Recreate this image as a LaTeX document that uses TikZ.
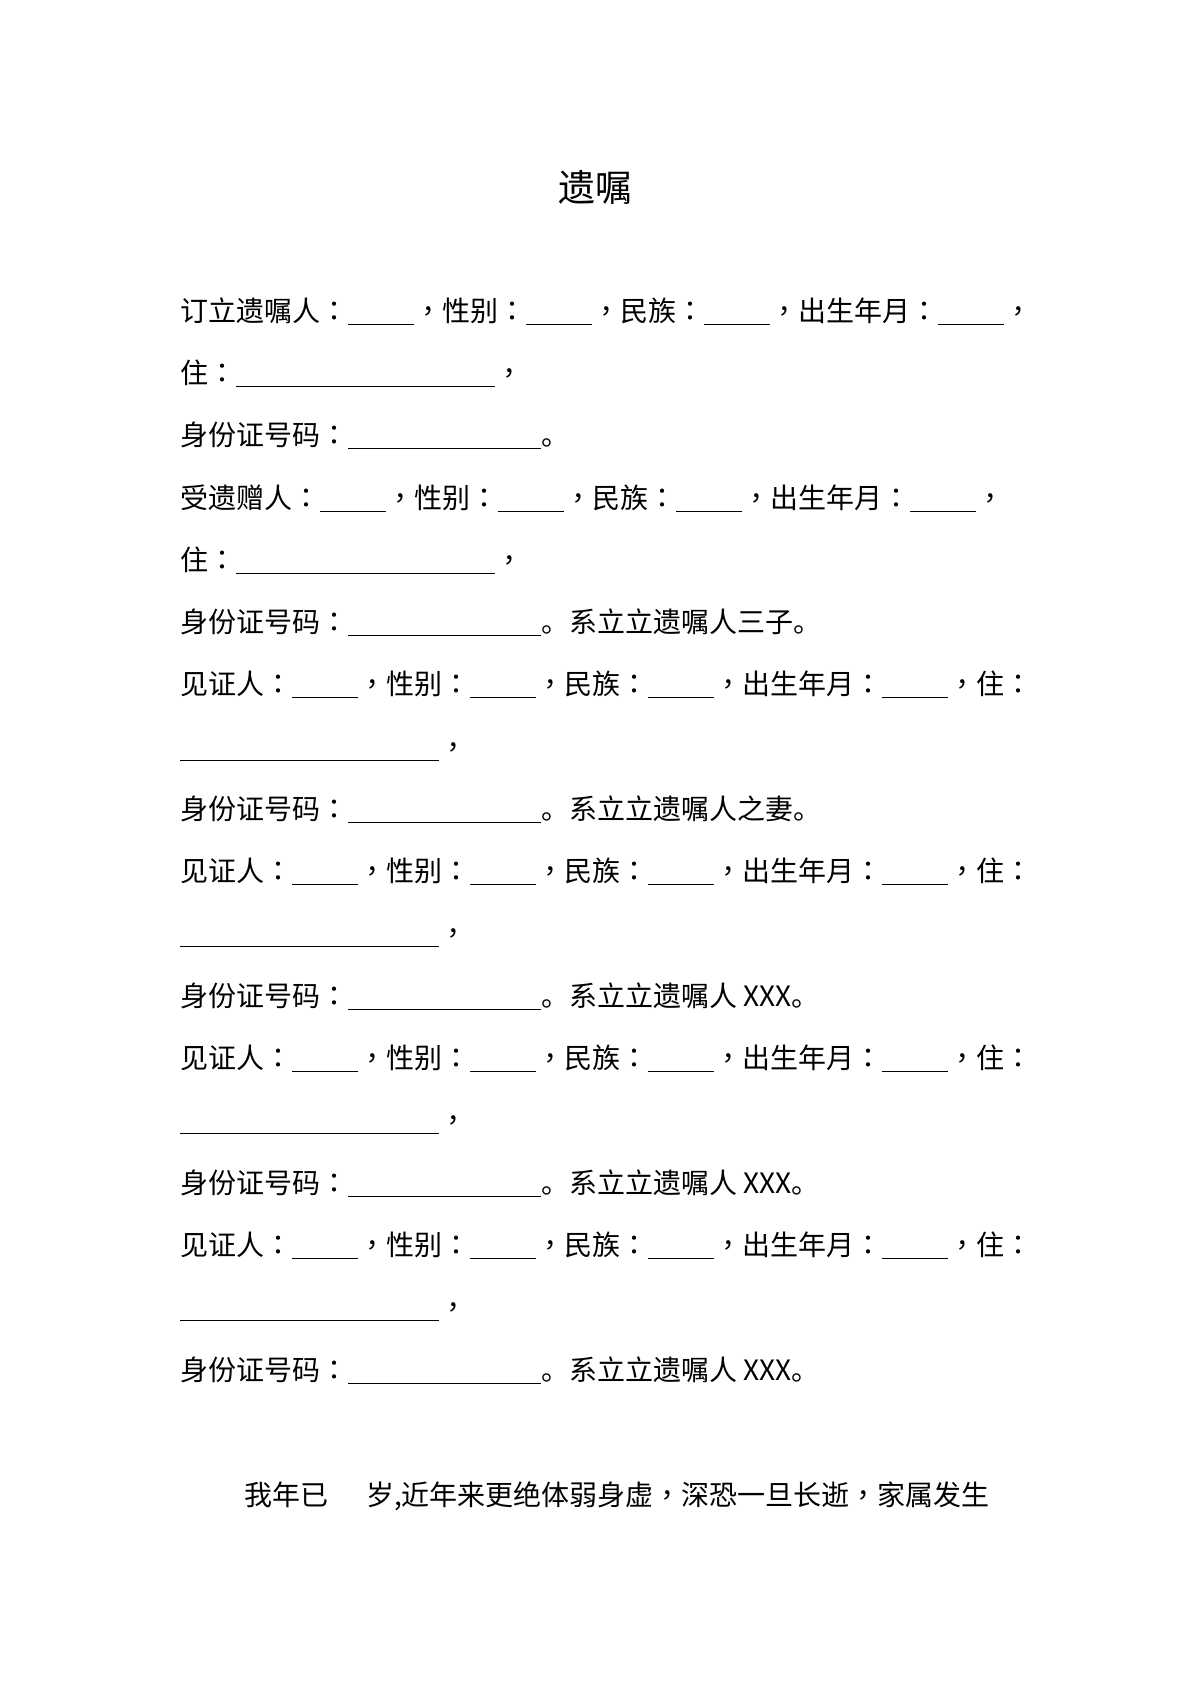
\documentclass[tikz,border=0pt]{standalone}
\usepackage{fontspec}
\setmainfont{Noto Sans CJK SC}
\newfontfamily\tcf{Noto Sans CJK TC}
\newcommand{\blk}[1]{\rule[-4pt]{#1pt}{1.1pt}}
\newcommand{\CO}{{\tcf ：}}
\newcommand{\CM}{{\tcf ，}}
\begin{document}
\begin{tikzpicture}[x=1pt,y=1pt,ln/.style={anchor=base west,inner sep=0pt,font=\fontsize{28}{34}\selectfont}]
\useasboundingbox[fill=white] (0,0) rectangle (1190,-1683);
\node[anchor=base,inner sep=0pt,font=\fontsize{37}{44}\selectfont] (t) at (595,-201) {遗嘱};
\def\S{\blk{66}}\def\L{\blk{259}}\def\I{\blk{193}}
\node[ln] (l1) at (180,-321) {订立遗嘱人\CO\S\CM 性别\CO\S\CM 民族\CO\S\CM 出生年月\CO\S\CM};
\node[ln] (l2) at (180,-383) {住\CO\L\CM};
\node[ln] (l3) at (180,-445) {身份证号码\CO\I。};
\node[ln] (l4) at (180,-508) {受遗赠人\CO\S\CM 性别\CO\S\CM 民族\CO\S\CM 出生年月\CO\S\CM};
\node[ln] (l5) at (180,-570) {住\CO\L\CM};
\node[ln] (l6) at (180,-632) {身份证号码\CO\I。系立立遗嘱人三子。};
\node[ln] (l7) at (180,-694) {见证人\CO\S\CM 性别\CO\S\CM 民族\CO\S\CM 出生年月\CO\S\CM 住\CO};
\node[ln] (l8) at (180,-757) {\L\CM};
\node[ln] (l9) at (180,-819) {身份证号码\CO\I。系立立遗嘱人之妻。};
\node[ln] (l10) at (180,-881) {见证人\CO\S\CM 性别\CO\S\CM 民族\CO\S\CM 出生年月\CO\S\CM 住\CO};
\node[ln] (l11) at (180,-943) {\L\CM};
\node[ln] (l12) at (180,-1006) {身份证号码\CO\I。系立立遗嘱人 XXX。};
\node[ln] (l13) at (180,-1068) {见证人\CO\S\CM 性别\CO\S\CM 民族\CO\S\CM 出生年月\CO\S\CM 住\CO};
\node[ln] (l14) at (180,-1130) {\L\CM};
\node[ln] (l15) at (180,-1193) {身份证号码\CO\I。系立立遗嘱人 XXX。};
\node[ln] (l16) at (180,-1255) {见证人\CO\S\CM 性别\CO\S\CM 民族\CO\S\CM 出生年月\CO\S\CM 住\CO};
\node[ln] (l17) at (180,-1317) {\L\CM};
\node[ln] (l18) at (180,-1380) {身份证号码\CO\I。系立立遗嘱人 XXX。};
\node[ln] (l19) at (244,-1505) {我年已\hspace{38pt}岁,近年来更绝体弱身虚\CM 深恐一旦长逝\CM 家属发生};
\end{tikzpicture}
\end{document}
